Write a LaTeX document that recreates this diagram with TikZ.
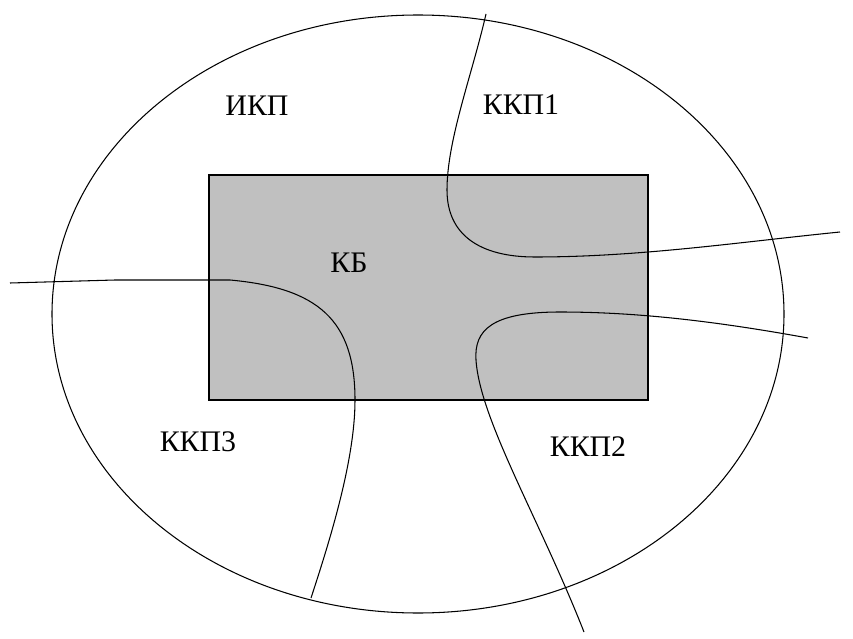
\documentclass[tikz,border=0pt]{standalone}
\usepackage{fontspec}
\newfontfamily\labelfont{Liberation Serif}
\usetikzlibrary{positioning}
\definecolor{zonegray}{HTML}{C0C0C0}

\begin{document}
\begin{tikzpicture}[x=0.02cm,y=-0.02cm,line width=0.6pt,
    zone label/.style={font=\labelfont\fontsize{17}{17}\selectfont,inner sep=0pt}]

  % page frame
  \useasboundingbox (0,0) rectangle (853,639);

  % inner block
  \draw[fill=zonegray] (209,175) rectangle (648,400);

  % outer boundary
  \draw (418,314) ellipse [x radius=366,y radius=299];

  % border lines between the zones
  \draw (486,14) .. controls (472,75) and (447,140) .. (447,190)
        .. controls (447,235) and (480,257) .. (535,257)
        .. controls (640,257) and (740,242) .. (840,232);
  \draw (808,338) .. controls (720,322) and (640,312) .. (560,312)
        .. controls (492,312) and (474,330) .. (476,360)
        .. controls (480,420) and (540,520) .. (584,632);
  \draw (10,283) -- (115,280) -- (230,280)
        .. controls (318,288) and (355,320) .. (355,400)
        .. controls (355,460) and (330,540) .. (311,598);

  % zone names
  \node[zone label] (ikp)  at (257,106) {ИКП};
  \node[zone label] (kkp1) at (521,105) {ККП1};
  \node[zone label] (kb)   at (349,263) {КБ};
  \node[zone label] (kkp3) at (198,442) {ККП3};
  \node[zone label] (kkp2) at (588,447) {ККП2};
\end{tikzpicture}
\end{document}
